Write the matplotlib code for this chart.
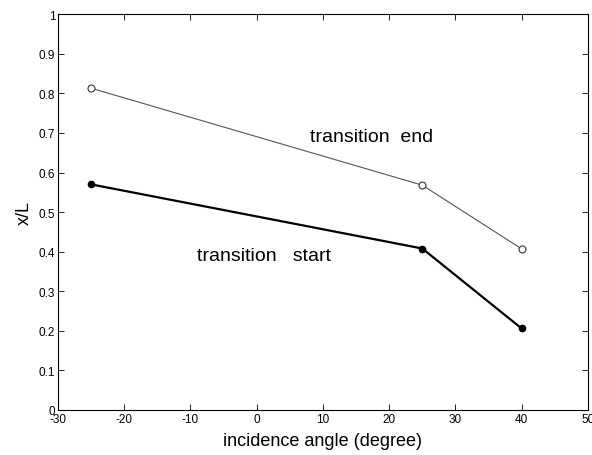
import matplotlib
matplotlib.use("Agg")
import matplotlib.pyplot as plt

angles = [-25, 25, 40]
trans_end = [0.813, 0.568, 0.407]
trans_start = [0.570, 0.408, 0.206]
xticks = [-30, -20, -10, 0, 10, 20, 30, 40, 50]
yticks = [0, 0.1, 0.2, 0.3, 0.4, 0.5, 0.6, 0.7, 0.8, 0.9, 1]
ytick_labels = ["0", "0.1", "0.2", "0.3", "0.4", "0.5", "0.6", "0.7", "0.8", "0.9", "1"]

plt.rcParams['font.family'] = ['Liberation Sans', 'DejaVu Sans']
plt.rcParams['axes.unicode_minus'] = False
fig = plt.figure(figsize=(5.92, 4.56), dpi=100)
ax = fig.add_axes([0.098, 0.0987, 0.895, 0.868])

ax.plot(angles, trans_end, color='#555555', lw=0.8, marker='o', ms=5,
        mfc='white', mec='#333333', mew=0.8)
ax.plot(angles, trans_start, color='black', lw=1.6, marker='o', ms=4.5,
        mfc='black', mec='black')

ax.text(8.0, 0.692, "transition  end", fontsize=14, va='center', ha='left')
ax.text(-9.0, 0.391, "transition   start", fontsize=14, va='center', ha='left')

ax.set_xlim(-30, 50)
ax.set_ylim(0, 1)
ax.set_xticks(xticks)
ax.set_yticks(yticks)
ax.set_yticklabels(ytick_labels)
ax.tick_params(direction='in', top=True, right=True, labelsize=8.5, length=4, width=0.6, pad=2)
for s in ax.spines.values():
    s.set_linewidth(0.8)
ax.set_xlabel("incidence angle (degree)", fontsize=13, labelpad=5)
ax.set_ylabel("x/L", fontsize=13, labelpad=4)

fig.savefig("out.png", dpi=100)
